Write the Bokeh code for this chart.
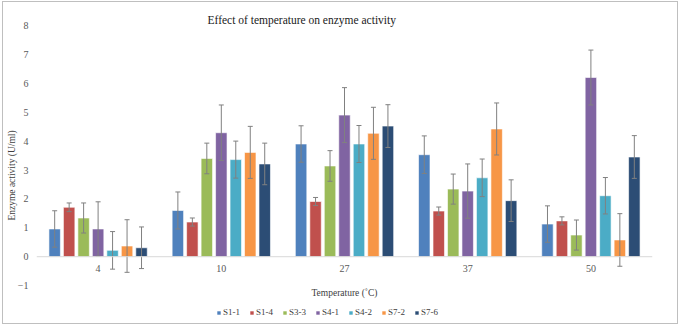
from bokeh.plotting import figure
from bokeh.models import ColumnDataSource, Legend, LegendItem, Label, FixedTicker, Range1d, Span
from bokeh.transform import dodge
from bokeh.embed import file_html
from bokeh.resources import INLINE
from bokeh.core.properties import value

categories = ["4", "10", "27", "37", "50"]
series = ["S1-1", "S1-4", "S3-3", "S4-1", "S4-2", "S7-2", "S7-6"]

s1_1 = [0.96, 1.60, 3.90, 3.53, 1.13]
s1_4 = [1.71, 1.20, 1.91, 1.58, 1.24]
s3_3 = [1.34, 3.40, 3.14, 2.34, 0.75]
s4_1 = [0.96, 4.29, 4.90, 2.27, 6.20]
s4_2 = [0.22, 3.36, 3.90, 2.73, 2.11]
s7_2 = [0.37, 3.61, 4.27, 4.42, 0.58]
s7_6 = [0.31, 3.21, 4.52, 1.94, 3.45]

e1_1 = [0.63, 0.64, 0.63, 0.65, 0.63]
e1_4 = [0.15, 0.14, 0.14, 0.14, 0.14]
e3_3 = [0.52, 0.53, 0.53, 0.52, 0.52]
e4_1 = [0.94, 0.96, 0.95, 0.94, 0.95]
e4_2 = [0.65, 0.64, 0.64, 0.65, 0.63]
e7_2 = [0.91, 0.90, 0.90, 0.90, 0.91]
e7_6 = [0.72, 0.72, 0.74, 0.72, 0.74]

y_ticks = [-1, 0, 1, 2, 3, 4, 5, 6, 7, 8]

values = [s1_1, s1_4, s3_3, s4_1, s4_2, s7_2, s7_6]
errors = [e1_1, e1_4, e3_3, e4_1, e4_2, e7_2, e7_6]
colors = ["#4F81BD", "#C0504D", "#9BBB59", "#8064A2", "#4BACC6", "#F79646", "#2C4D75"]

SERIF = "Liberation Serif"

# frame spans down to the bottom of the chart; the y axis only ticks -1..8
p = figure(x_range=categories, y_range=Range1d(-2.38, 8), width=676, height=323,
           output_backend="svg", toolbar_location=None, x_axis_location=None,
           min_border_left=32, min_border_right=27, min_border_top=23, min_border_bottom=0)
p.styles = {"border": "1px solid #BFBFBF", "margin": "1px 0 0 2px"}
p.outline_line_color = None
p.xgrid.grid_line_color = None
p.ygrid.grid_line_color = None

p.title.text = "Effect of temperature on enzyme activity"
p.title.align = "left"
p.title.offset = 171
p.title.standoff = 0
p.title.text_font = SERIF
p.title.text_font_size = "11.5px"
p.title.text_font_style = "normal"
p.title.text_color = "#1a1a1a"

# horizontal axis line crossing at zero
p.add_layout(Span(location=0, dimension="width", line_color="#D9D9D9", line_width=1))

pitch = 0.1175
bar_w = 0.093
items = []
for i, (name, vals, errs, col) in enumerate(zip(series, values, errors, colors)):
    off = (i - 3) * pitch
    src = ColumnDataSource(dict(cat=categories, val=vals,
                                upper=[v + e for v, e in zip(vals, errs)],
                                lower=[v - e for v, e in zip(vals, errs)]))
    r = p.vbar(x=dodge("cat", off, range=p.x_range), top="val", bottom=0, width=bar_w,
               source=src, fill_color=col, line_color="white", line_width=0.6)
    p.segment(x0=dodge("cat", off, range=p.x_range), x1=dodge("cat", off, range=p.x_range),
              y0="lower", y1="upper", source=src, line_color="#808080", line_width=1)
    p.scatter(x=dodge("cat", off, range=p.x_range), y="upper", source=src, marker="dash",
              size=5, line_color="#808080", line_width=1)
    p.scatter(x=dodge("cat", off, range=p.x_range), y="lower", source=src, marker="dash",
              size=5, line_color="#808080", line_width=1)
    items.append(LegendItem(label=name, renderers=[r]))

# category labels just below the zero line
p.text(x=categories, y=0, text=categories, y_offset=12, text_align="center",
       text_baseline="middle", text_font=value(SERIF), text_font_size="10px",
       text_color="#595959")

ya = p.yaxis[0]
ya.ticker = FixedTicker(ticks=y_ticks)
ya.axis_line_color = None
ya.major_tick_line_color = None
ya.minor_tick_line_color = None
ya.major_tick_out = 0
ya.major_tick_in = 0
ya.minor_tick_out = 0
ya.minor_tick_in = 0
ya.major_label_standoff = 8
ya.major_label_text_font = SERIF
ya.major_label_text_font_size = "10px"
ya.major_label_text_color = "#595959"
ya.axis_label = "Enzyme activity (U/ml)"
ya.axis_label_text_font = SERIF
ya.axis_label_text_font_size = "9.5px"
ya.axis_label_text_font_style = "normal"
ya.axis_label_text_color = "#404040"
ya.axis_label_standoff = -2

p.add_layout(Label(x=2.5, y=-1.24, text="Temperature (\u02daC)",
                   text_font=SERIF, text_font_size="9.5px", text_color="#404040",
                   text_align="center", text_baseline="middle"))

legend = Legend(items=items, orientation="horizontal", location=(180, 8),
                glyph_width=5, glyph_height=5, label_standoff=2, spacing=6,
                padding=0, margin=0, border_line_color=None, background_fill_alpha=0,
                label_text_font=SERIF, label_text_font_size="9px", label_text_color="#404040",
                label_height=10)
p.add_layout(legend, "center")

open("out.html", "w").write(file_html(p, INLINE))
